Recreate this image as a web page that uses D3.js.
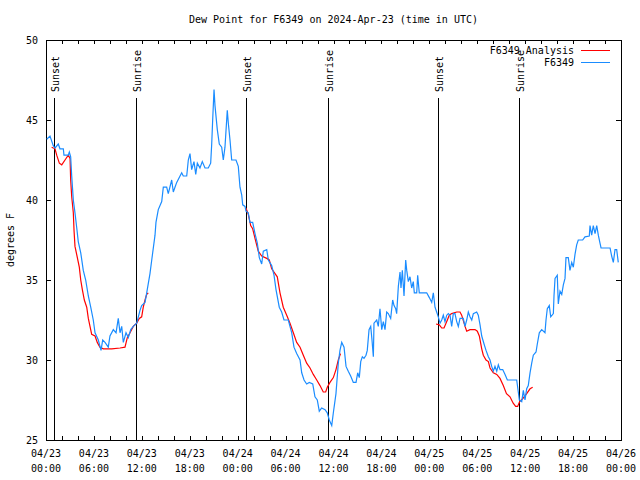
<!DOCTYPE html>
<html>
<head>
<meta charset="utf-8">
<script src="https://cdn.jsdelivr.net/npm/d3@7"></script>
<style>
  html, body { margin: 0; padding: 0; background: #fff; }
  svg { display: block; }
  text { font-family: "DejaVu Sans Mono", "Liberation Mono", monospace; font-size: 10px; fill: #000; }
</style>
</head>
<body>
<svg id="chart" width="640" height="480"></svg>
<script>
// ---- Data (hours since 2024-04-23 00:00 UTC) ----
const titleText = "Dew Point for F6349 on 2024-Apr-23 (time in UTC)";
const yLabel = "degrees F";
const seriesNames = ["F6349 Analysis", "F6349"];
const yTicks = [25, 30, 35, 40, 45, 50];

const obsHours = [0.09,0.5,0.91,1.13,1.54,1.75,2.17,2.25,2.79,2.92,3.09,3.22,3.42,3.63,3.84,4.04,4.35,4.67,4.97,5.30,5.60,5.92,6.14,6.55,6.89,7.10,7.39,7.80,8.01,8.43,8.77,9.05,9.27,9.48,9.68,10.02,10.31,10.61,10.93,11.36,11.77,11.98,12.40,12.61,13.02,13.24,13.65,13.77,14.06,14.49,14.69,15.11,15.31,15.74,15.94,16.15,16.37,16.99,17.19,17.62,17.82,18.03,18.24,18.53,18.75,18.95,19.28,19.57,19.91,20.32,20.62,20.75,20.87,21.04,21.16,21.45,21.70,22.00,22.20,22.41,22.70,22.83,23.04,23.25,23.79,24.08,24.29,24.51,24.63,24.92,25.04,25.33,25.54,25.88,26.17,26.46,26.71,27.01,27.21,27.64,27.84,28.26,28.55,28.80,29.21,29.51,29.80,30.34,30.55,30.77,31.05,31.39,31.81,32.02,32.31,32.64,32.97,33.40,33.68,33.97,34.22,34.52,34.94,35.22,35.47,35.78,35.98,36.31,36.60,36.81,37.03,37.32,37.57,37.85,38.15,38.48,38.82,39.03,39.23,39.41,39.61,39.82,40.07,40.23,40.45,40.66,40.82,40.99,41.07,41.41,41.61,41.82,42.04,42.24,42.45,42.66,42.86,43.16,43.41,43.58,43.79,43.91,44.12,44.33,44.45,44.62,44.83,45.04,45.17,45.37,45.58,45.79,45.99,46.12,46.42,46.54,46.74,47.67,48.00,48.30,48.50,48.71,48.92,49.12,49.34,49.55,49.75,49.96,50.18,50.38,50.59,50.80,51.00,51.21,51.43,51.63,51.84,52.25,52.47,52.68,52.88,53.09,53.31,53.51,53.93,54.13,54.35,54.56,54.85,55.10,55.39,55.60,55.81,56.01,56.22,56.44,56.64,56.85,57.19,57.48,57.77,58.94,59.14,59.27,59.57,59.77,59.98,60.19,60.39,60.61,60.82,61.02,61.36,61.52,61.77,62.07,62.48,62.61,62.77,63.02,63.20,63.53,63.61,63.74,64.02,64.15,64.36,64.58,64.78,64.99,65.11,65.40,65.61,65.83,66.03,66.24,66.45,66.65,67.20,67.49,68.03,68.12,68.33,68.53,68.75,68.96,69.16,69.37,69.50,70.63,70.83,71.04,71.25,71.46,71.66];
const obsDew = [43.8,44.0,43.4,43.25,43.5,43.2,43.2,42.8,42.8,43.0,42.7,41.5,40.0,39.2,38.3,37.4,36.7,35.6,35.0,34.0,33.3,32.5,31.7,31.25,30.6,31.25,31.1,30.8,31.5,31.9,31.7,32.6,31.7,32.1,31.1,31.7,31.4,31.9,32.1,32.3,33.1,33.4,33.6,34.2,35.4,36.25,37.8,38.6,39.4,39.9,40.8,40.8,40.4,41.25,40.5,40.8,41.1,41.7,41.5,41.5,42.5,42.9,41.9,42.4,41.6,42.3,42.0,42.4,42.0,42.0,42.3,43.5,45.0,46.9,45.9,44.4,43.5,43.3,42.5,43.3,45.6,44.8,43.75,42.5,42.5,42.1,40.8,40.3,39.7,39.6,39.3,39.2,38.6,38.6,37.9,37.3,36.4,36.0,36.8,36.9,36.25,35.9,35.3,34.4,33.3,33.0,32.5,32.5,32.1,31.7,30.8,30.4,30.0,29.2,28.75,28.5,28.6,28.5,27.7,27.5,26.8,27.0,26.9,26.7,26.25,25.9,26.7,27.9,29.8,30.6,31.1,30.8,29.6,29.3,29.0,28.6,28.6,29.2,28.9,29.9,30.2,30.1,30.3,30.6,31.9,32.1,31.25,30.2,32.3,32.5,32.1,33.2,31.9,32.4,31.9,33.0,32.9,32.6,33.75,33.4,33.2,32.9,34.6,35.5,34.5,35.6,34.0,36.25,35.6,34.9,35.2,34.5,34.9,34.2,34.2,35.3,34.2,34.2,33.9,33.6,34.2,33.3,33.0,32.7,32.3,32.5,32.8,32.4,32.8,32.9,32.8,32.1,32.9,32.9,32.4,32.1,32.6,32.6,32.1,32.5,33.0,32.7,32.5,32.9,33.0,32.8,32.2,31.5,31.0,30.6,30.2,30.0,29.6,29.3,29.6,29.3,29.7,29.4,29.4,29.1,28.75,28.75,28.0,27.5,27.4,28.1,27.5,28.2,28.4,29.2,29.8,30.3,30.5,31.0,31.7,31.9,31.7,32.5,33.2,33.4,32.7,32.9,34.0,35.1,35.3,33.5,34.3,34.1,34.7,35.1,36.4,36.4,35.6,36.1,35.8,36.6,37.2,37.5,37.5,37.7,37.75,38.4,37.8,38.4,37.9,38.4,37.8,37.3,37.0,37.0,36.5,36.1,36.9,36.9,36.1];

// Analysis series; null marks a gap
const anaHours = [0.71,1.13,1.34,1.67,1.97,2.38,2.79,3.01,3.09,3.22,3.42,3.51,3.63,3.84,4.17,4.35,4.55,4.80,5.10,5.30,5.51,5.72,6.14,6.42,6.76,7.18,8.23,9.27,9.89,10.18,10.52,10.93,11.36,11.68,11.98,12.18,12.40,12.61,12.81,
  18.0,
  25.04,25.33,25.63,25.88,26.17,26.58,27.01,27.64,27.96,28.26,28.68,28.96,29.30,29.71,30.14,30.55,30.97,31.39,31.81,32.22,32.64,33.06,33.47,33.90,34.31,34.72,35.02,35.22,35.56,35.98,36.31,36.60,36.88,
  42.0,
  48.84,49.25,49.55,49.84,50.18,50.50,50.80,51.43,51.84,52.05,52.47,52.68,53.09,53.72,54.01,54.26,54.56,54.76,55.10,55.39,55.60,56.01,56.44,56.85,57.26,57.66,58.10,58.50,58.81,59.06,59.31,59.73,60.19,60.61,60.94];
const anaDew = [43.3,43.2,42.8,42.3,42.2,42.5,42.8,42.6,41.25,40.2,39.2,38.1,37.1,36.6,35.8,35.0,34.4,33.75,33.3,32.6,32.1,31.6,31.5,31.1,30.8,30.7,30.7,30.75,30.8,31.4,31.7,32.1,32.3,32.6,32.7,33.3,33.75,34.1,34.2,
  null,
  39.5,39.1,38.4,38.2,37.6,36.8,36.5,36.35,36.25,35.7,35.4,35.2,34.2,33.3,32.8,32.3,31.7,31.1,30.8,30.3,29.8,29.5,29.1,28.75,28.4,28.0,28.0,28.3,28.6,28.9,29.4,30.0,30.4,
  null,
  32.25,32.2,32.0,32.0,32.4,32.8,32.9,33.0,33.0,32.8,32.1,31.8,31.9,31.9,31.8,31.5,30.7,30.3,30.0,29.9,29.5,29.2,29.1,28.85,28.4,27.9,27.7,27.3,27.1,27.1,27.4,27.6,27.9,28.2,28.3];

const sunHours = [1.04, 11.27, 25.04, 35.35, 49.12, 59.27];
const sunLabels = ["Sunset", "Sunrise", "Sunset", "Sunrise", "Sunset", "Sunrise"];

// ---- Layout ----
const L = 46, R = 621, T = 40, B = 440;
const base = Date.UTC(2024, 3, 23, 0, 0, 0);
const toDate = h => new Date(base + h * 3600e3);

const svg = d3.select("#chart");
const x = d3.scaleUtc().domain([toDate(0), toDate(72)]).range([L, R]);
const y = d3.scaleLinear().domain([25, 50]).range([B, T]);

// Title
svg.append("text").attr("x", (L + R) / 2).attr("y", 23).attr("text-anchor", "middle").text(titleText);

// Y label
svg.append("text").attr("transform", `translate(14,${(T + B) / 2}) rotate(-90)`)
  .attr("text-anchor", "middle").text(yLabel);

// Axes (ticks inward)
const tick2h = d3.utcHour.every(2);
const gB = svg.append("g").attr("transform", `translate(0,${B})`)
  .call(d3.axisBottom(x).ticks(tick2h).tickSize(-4).tickSizeOuter(0).tickFormat(""));
const gT = svg.append("g").attr("transform", `translate(0,${T})`)
  .call(d3.axisTop(x).ticks(tick2h).tickSize(-4).tickSizeOuter(0).tickFormat(""));
const gL = svg.append("g").attr("transform", `translate(${L},0)`)
  .call(d3.axisLeft(y).tickValues(yTicks).tickSize(-5).tickSizeOuter(0).tickPadding(8).tickFormat(d3.format("d")));
const gR = svg.append("g").attr("transform", `translate(${R},0)`)
  .call(d3.axisRight(y).tickValues(yTicks).tickSize(-5).tickSizeOuter(0).tickFormat(""));
[gB, gT, gL, gR].forEach(g => {
  g.select(".domain").remove();
  g.selectAll(".tick line").attr("stroke", "#000").attr("shape-rendering", "crispEdges");
  g.selectAll("text").attr("font-family", null).attr("font-size", null);
});
gL.selectAll(".tick text").attr("dy", "0.35em");

// X tick labels (two lines)
const labTicks = x.ticks(d3.utcHour.every(6));
const fmtD = d3.utcFormat("%m/%d"), fmtH = d3.utcFormat("%H:%M");
const lab = svg.append("g").selectAll("text").data(labTicks).join("text")
  .attr("text-anchor", "middle").attr("x", d => x(d));
lab.append("tspan").attr("x", d => x(d)).attr("y", 457).text(d => fmtD(d));
lab.append("tspan").attr("x", d => x(d)).attr("y", 472).text(d => fmtH(d));

// Border
svg.append("rect").attr("x", L + 0.5).attr("y", T + 0.5).attr("width", R - L).attr("height", B - T)
  .attr("fill", "none").attr("stroke", "#000").attr("stroke-width", 1).attr("shape-rendering", "crispEdges");

// Sunrise / sunset lines
const sun = svg.append("g").selectAll("g").data(sunHours).join("g");
sun.append("line")
  .attr("x1", d => Math.round(x(toDate(d))) + 0.5).attr("x2", d => Math.round(x(toDate(d))) + 0.5)
  .attr("y1", 98).attr("y2", B).attr("stroke", "#000").attr("stroke-width", 1);
sun.append("text")
  .attr("transform", d => `translate(${Math.round(x(toDate(d))) + 5},92) rotate(-90)`)
  .attr("text-anchor", "start").text((d, i) => sunLabels[i]);

// Lines
const obs = obsHours.map((h, i) => ({ t: toDate(h), v: obsDew[i] }));
const ana = anaHours.map((h, i) => ({ t: toDate(h), v: anaDew[i] }));
const line = d3.line().defined(d => d.v != null).x(d => x(d.t)).y(d => y(d.v));

svg.append("path").datum(ana).attr("d", line).attr("fill", "none").attr("stroke", "#ff0000").attr("stroke-width", 1.2);
svg.append("path").datum(obs).attr("d", line).attr("fill", "none").attr("stroke", "#1a8cff").attr("stroke-width", 1.2);

// Legend
const legColors = ["#ff0000", "#1a8cff"];
const leg = svg.append("g").selectAll("g").data(seriesNames).join("g")
  .attr("transform", (d, i) => `translate(0,${50 + i * 12})`);
leg.append("text").attr("x", 574).attr("y", 3.5).attr("text-anchor", "end").text(d => d);
leg.append("line").attr("x1", 581).attr("x2", 610).attr("y1", 0.5).attr("y2", 0.5)
  .attr("stroke", (d, i) => legColors[i]).attr("stroke-width", 1);
</script>
</body>
</html>
